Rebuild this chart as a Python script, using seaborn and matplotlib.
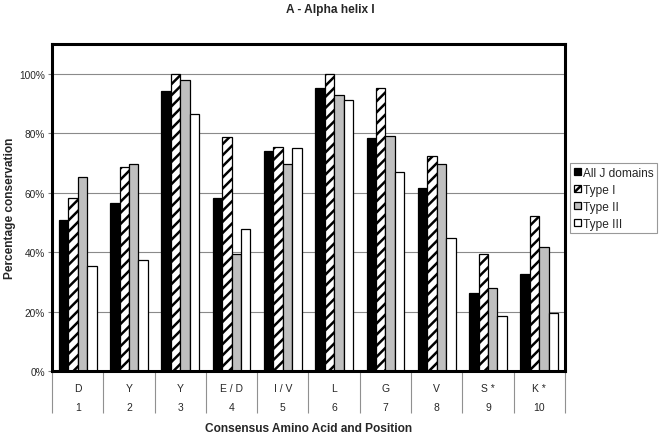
import numpy as np
import pandas as pd
import matplotlib
matplotlib.use("Agg")
import matplotlib.pyplot as plt
import seaborn as sns
from matplotlib.ticker import FuncFormatter

amino_acids = ["D", "Y", "Y", "E / D", "I / V", "L", "G", "V", "S *", "K *"]
positions = ["1", "2", "3", "4", "5", "6", "7", "8", "9", "10"]
series_names = ["All J domains", "Type I", "Type II", "Type III"]
all_j = [50.7, 56.6, 94.2, 58.3, 74.0, 95.2, 78.5, 61.4, 26.4, 32.6]
type_1 = [58.3, 68.7, 100.0, 78.7, 75.4, 100.0, 95.2, 72.2, 39.2, 52.2]
type_2 = [65.2, 69.8, 97.8, 39.5, 69.8, 92.9, 79.1, 69.8, 28.0, 41.8]
type_3 = [35.3, 37.5, 86.3, 47.7, 75.1, 91.0, 67.0, 44.8, 18.5, 19.4]

sns.set_theme(style="white")
plt.rcParams['font.family'] = ['Liberation Sans', 'DejaVu Sans']
plt.rcParams['hatch.linewidth'] = 1.8

cats = [f"{a}|{p}" for a, p in zip(amino_acids, positions)]
rows = []
for name, vals in zip(series_names, [all_j, type_1, type_2, type_3]):
    for c, v in zip(cats, vals):
        rows.append({"cat": c, "series": name, "value": v})
df = pd.DataFrame(rows)

fig = plt.figure(figsize=(6.6, 4.35), dpi=100)
ax = fig.add_axes([52/660, 1 - 372/435, (565-52)/660, (372-45)/435])

colors = ["#000000", "#ffffff", "#bfbfbf", "#ffffff"]
sns.barplot(data=df, x="cat", y="value", hue="series", order=cats,
            hue_order=series_names, palette=colors, width=0.735,
            edgecolor="black", linewidth=0.9, saturation=1,
            legend=False, ax=ax, errorbar=None)
for p in ax.containers[1]:
    p.set_hatch("///")

ax.set_ylim(0, 110)
ax.set_yticks([0, 20, 40, 60, 80, 100])
ax.yaxis.set_major_formatter(FuncFormatter(lambda v, _: f"{int(v)}%"))
ax.yaxis.grid(True, color="#8a8a8a", linewidth=0.8)
ax.set_axisbelow(True)
ax.tick_params(axis="y", labelsize=7.3, length=3, width=0.8,
               color="#808080", pad=2, left=True, direction="out")

ax.set_xlim(-0.5, 9.5)
ax.set_xticks(np.arange(-0.5, 10, 1))
ax.set_xticklabels([])
ax.tick_params(axis="x", which="major", direction="out", length=30,
               width=0.8, color="#909090", bottom=True)
ax.set_xticks(np.arange(10), minor=True)
ax.set_xticklabels([f"{a}\n{p}" for a, p in zip(amino_acids, positions)],
                   minor=True, linespacing=2.1)
ax.tick_params(axis="x", which="minor", length=0, labelsize=7.5, pad=9)

for s in ax.spines.values():
    s.set_visible(True)
    s.set_color("black")
    s.set_linewidth(2.2)

ax.set_xlabel("Consensus Amino Acid and Position", fontsize=8.6,
              fontweight="bold", labelpad=3)
ax.set_ylabel("Percentage conservation", fontsize=8.6, fontweight="bold")
ax.yaxis.set_label_coords(-0.07, 0.5)
ax.set_title("A - Alpha helix I", fontsize=8.6, fontweight="bold",
             x=(330-52)/513, pad=23)

handles = [ax.containers[i].patches[0] for i in range(4)]
leg = fig.legend(handles, series_names, loc="upper left",
                 bbox_to_anchor=(570/660, 1 - 164/435),
                 bbox_transform=fig.transFigure, fontsize=8.6,
                 handlelength=0.6, handleheight=0.6, handletextpad=0.2,
                 labelspacing=0.42, borderpad=0.3, fancybox=False,
                 framealpha=1, edgecolor="#999999", borderaxespad=0)
leg.get_frame().set_linewidth(0.8)

fig.savefig("out.png", dpi=100)
